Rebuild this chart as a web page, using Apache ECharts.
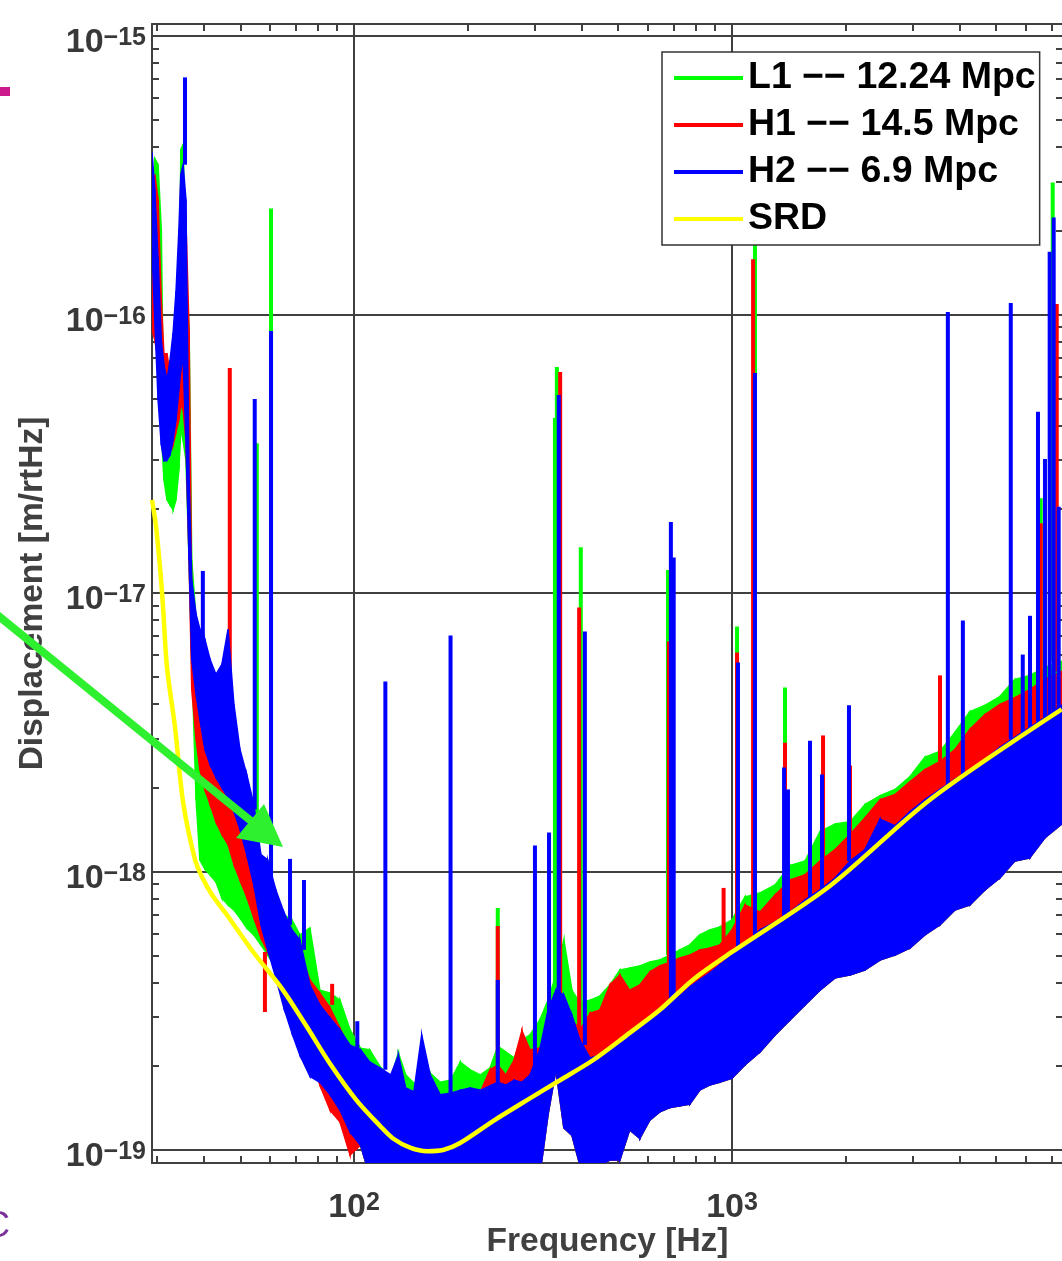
<!DOCTYPE html>
<html><head><meta charset="utf-8">
<script src="https://cdn.jsdelivr.net/npm/echarts@6/dist/echarts.min.js"></script>
<style>html,body{margin:0;padding:0;background:#fff}#c{width:1062px;height:1261px}</style>
</head><body><div id="c"></div><script>
// ---------------- DATA ----------------
// shared frequency grid for the noise bands [Hz]
const freq = [29.2,29.7,30.3,30.9,31.4,32.0,32.6,33.2,33.8,34.4,34.8,35.3,35.9,36.6,37.2,38.2,39.1,40.3,41.6,43.1,44.7,46.4,48.1,49.9,52.0,54.3,56.7,59.1,62.1,65.2,68.5,71.9,76.4,81.2,86.4,91.8,97.6,
104,110,117,125,131,137,144,151,159,169,180,191,203,216,229,240,252,265,278,292,310,326,342,359,377,396,421,447,475,505,536,570,606,644,685,727,773,821,873,928,1000,
1082,1186,1300,1424,1560,1709,1874,2053,2249,2464,2700,2956,3238,3548,3888,4259,4668,5112,5600,6135,6721,7451];

// L1 band: upper / lower edge [m/rtHz]
const l1Hi = [1.71e-16,3.63e-16,3.45e-16,2.02e-16,3.45e-17,3.26e-17,3.40e-17,3.45e-17,4.18e-17,5.82e-17,3.91e-16,4.08e-16,1.34e-16,8.94e-17,1.31e-17,8.03e-18,6.27e-18,4.89e-18,3.98e-18,3.10e-18,2.42e-18,2.05e-18,1.81e-18,1.60e-18,1.36e-18,1.12e-18,9.72e-19,8.94e-19,7.90e-19,6.98e-19,6.70e-19,5.92e-19,6.27e-19,3.75e-19,3.66e-19,3.45e-19,2.70e-19,
2.32e-19,2.29e-19,2.00e-19,1.81e-19,2.23e-19,1.86e-19,1.74e-19,1.70e-19,1.89e-19,1.75e-19,1.78e-19,2.07e-19,1.94e-19,1.86e-19,1.97e-19,2.36e-19,2.25e-19,2.14e-19,2.48e-19,2.59e-19,2.93e-19,3.45e-19,4.25e-19,5.68e-19,3.75e-19,3.37e-19,3.45e-19,3.57e-19,3.91e-19,4.43e-19,4.50e-19,4.58e-19,4.73e-19,4.81e-19,5.01e-19,5.23e-19,5.45e-19,5.92e-19,6.17e-19,6.32e-19,6.70e-19,
8.10e-19,8.37e-19,8.94e-19,1.05e-18,1.09e-18,1.39e-18,1.48e-18,1.51e-18,1.74e-18,1.87e-18,1.97e-18,2.19e-18,2.57e-18,2.70e-18,3.16e-18,3.75e-18,3.95e-18,4.25e-18,4.89e-18,5.06e-18,5.40e-18,5.68e-18];
const l1Lo = [9.56e-17,1.04e-16,8.10e-17,3.85e-17,2.55e-17,2.16e-17,2.07e-17,1.99e-17,2.16e-17,2.77e-17,3.85e-17,3.54e-17,3.00e-17,1.31e-17,5.77e-18,1.81e-18,1.10e-18,1.02e-18,9.72e-19,9.17e-19,8.03e-19,7.58e-19,7.27e-19,6.81e-19,6.27e-19,5.92e-19,5.45e-19,5.01e-19,4.50e-19,3.75e-19,3.24e-19,2.81e-19,2.38e-19,2.14e-19,1.86e-19,1.64e-19,1.39e-19,
1.04e-19,8.1e-20,8.1e-20,8.1e-20,8.1e-20,8.1e-20,8.1e-20,8.1e-20,8.1e-20,8.1e-20,8.1e-20,8.1e-20,8.1e-20,8.1e-20,8.1e-20,8.1e-20,8.1e-20,8.1e-20,8.1e-20,8.1e-20,8.1e-20,1.34e-19,1.94e-19,1.20e-19,1.13e-19,8.8e-20,8.8e-20,8.8e-20,9.2e-20,9.2e-20,1.18e-19,1.10e-19,1.28e-19,1.37e-19,1.42e-19,1.44e-19,1.46e-19,1.64e-19,1.71e-19,1.75e-19,1.81e-19,
2.02e-19,2.25e-19,2.59e-19,2.93e-19,3.32e-19,3.75e-19,4.15e-19,4.25e-19,4.43e-19,4.81e-19,5.01e-19,5.31e-19,5.92e-19,6.43e-19,7.27e-19,7.58e-19,8.58e-19,9.48e-19,1.09e-18,1.12e-18,1.32e-18,1.48e-18];

// H1 band
const h1Hi = [2.02e-16,3.18e-16,2.59e-16,1.13e-16,7.22e-17,7.22e-17,6.06e-17,6.59e-17,8.44e-17,1.13e-16,3.05e-16,3.18e-16,2.19e-16,8.80e-17,9.48e-18,7.40e-18,6.11e-18,4.50e-18,3.37e-18,2.63e-18,2.32e-18,1.97e-18,1.74e-18,1.54e-18,1.32e-18,1.09e-18,9.32e-19,8.51e-19,7.77e-19,6.98e-19,6.01e-19,5.14e-19,4.08e-19,3.66e-19,3.24e-19,2.74e-19,2.29e-19,
2.02e-19,1.94e-19,1.86e-19,1.78e-19,1.94e-19,1.64e-19,1.59e-19,1.64e-19,1.64e-19,1.54e-19,1.56e-19,1.60e-19,1.64e-19,1.62e-19,1.94e-19,2.02e-19,1.86e-19,2.10e-19,2.68e-19,2.29e-19,2.32e-19,2.70e-19,3.45e-19,3.32e-19,2.93e-19,2.70e-19,3.10e-19,3.18e-19,3.91e-19,4.25e-19,3.75e-19,3.91e-19,4.36e-19,4.58e-19,4.73e-19,4.89e-19,5.01e-19,5.23e-19,5.31e-19,5.45e-19,6.17e-19,
7.58e-19,7.15e-19,8.23e-19,9.32e-19,9.72e-19,1.09e-18,1.20e-18,1.36e-18,1.56e-18,1.81e-18,1.89e-18,2.10e-18,2.32e-18,2.48e-18,2.74e-18,3.24e-18,3.66e-18,3.98e-18,4.21e-18,4.50e-18,4.89e-18,5.23e-18];
const h1Lo = [8.80e-17,8.10e-17,6.87e-17,4.93e-17,3.54e-17,3.85e-17,3.26e-17,3.40e-17,3.79e-17,4.18e-17,4.73e-17,4.54e-17,3.54e-17,1.31e-17,4.50e-18,2.98e-18,2.32e-18,1.97e-18,1.74e-18,1.51e-18,1.36e-18,1.25e-18,1.06e-18,9.32e-19,8.10e-19,6.81e-19,5.77e-19,5.14e-19,4.50e-19,3.75e-19,3.18e-19,2.70e-19,2.19e-19,1.71e-19,1.39e-19,1.26e-19,9.6e-20,
1.04e-19,8.1e-20,8.1e-20,8.1e-20,8.1e-20,8.1e-20,8.1e-20,8.1e-20,8.1e-20,8.1e-20,8.1e-20,8.1e-20,8.1e-20,8.1e-20,8.1e-20,8.1e-20,8.1e-20,8.1e-20,8.1e-20,8.1e-20,8.1e-20,1.34e-19,1.94e-19,1.20e-19,1.13e-19,8.8e-20,8.8e-20,8.8e-20,9.2e-20,9.2e-20,1.18e-19,1.10e-19,1.28e-19,1.37e-19,1.42e-19,1.44e-19,1.46e-19,1.64e-19,1.71e-19,1.75e-19,1.81e-19,
2.02e-19,2.25e-19,2.59e-19,2.93e-19,3.32e-19,3.75e-19,4.15e-19,4.25e-19,4.43e-19,4.81e-19,5.01e-19,5.31e-19,5.92e-19,6.43e-19,7.27e-19,7.58e-19,8.58e-19,9.48e-19,1.09e-18,1.12e-18,1.32e-18,1.48e-18];

// H2 band
const h2Hi = [3.82e-16,2.81e-16,1.58e-16,8.10e-17,6.59e-17,5.82e-17,6.87e-17,8.58e-17,1.21e-16,2.02e-16,3.18e-16,3.45e-16,2.59e-16,2.55e-17,1.11e-17,8.37e-18,7.40e-18,6.81e-18,5.77e-18,5.10e-18,5.54e-18,7.40e-18,3.98e-18,2.74e-18,2.23e-18,1.74e-18,1.15e-18,1.10e-18,8.58e-19,7.15e-19,6.17e-19,5.68e-19,3.91e-19,3.32e-19,2.98e-19,2.70e-19,2.38e-19,
2.29e-19,2.07e-19,1.97e-19,1.86e-19,2.19e-19,1.67e-19,1.62e-19,2.59e-19,1.86e-19,1.58e-19,1.60e-19,1.64e-19,1.67e-19,1.64e-19,1.70e-19,1.75e-19,1.71e-19,1.78e-19,1.75e-19,1.86e-19,2.29e-19,3.18e-19,3.75e-19,3.60e-19,3.05e-19,2.48e-19,2.14e-19,2.19e-19,2.29e-19,2.48e-19,2.59e-19,2.79e-19,2.98e-19,3.18e-19,3.37e-19,3.57e-19,3.85e-19,4.08e-19,4.32e-19,4.62e-19,5.01e-19,
5.45e-19,6.17e-19,6.59e-19,7.15e-19,7.90e-19,8.58e-19,9.48e-19,1.09e-18,1.20e-18,1.54e-18,1.46e-18,1.64e-18,1.81e-18,1.97e-18,2.14e-18,2.32e-18,2.52e-18,2.79e-18,3.03e-18,3.29e-18,3.57e-18,3.95e-18];
const h2Lo = [1.71e-16,9.56e-17,4.93e-17,3.40e-17,2.98e-17,3.00e-17,3.13e-17,3.54e-17,4.18e-17,5.36e-17,6.32e-17,6.87e-17,3.54e-17,1.31e-17,5.77e-18,4.32e-18,3.51e-18,2.74e-18,2.42e-18,2.18e-18,2.00e-18,1.84e-18,1.64e-18,1.42e-18,1.15e-18,8.94e-19,6.43e-19,5.23e-19,4.15e-19,3.24e-19,2.63e-19,2.19e-19,1.84e-19,1.75e-19,1.58e-19,1.39e-19,1.16e-19,
1.04e-19,8.1e-20,8.1e-20,8.1e-20,8.1e-20,8.1e-20,8.1e-20,8.1e-20,8.1e-20,8.1e-20,8.1e-20,8.1e-20,8.1e-20,8.1e-20,8.1e-20,8.1e-20,8.1e-20,8.1e-20,8.1e-20,8.1e-20,8.1e-20,1.34e-19,1.94e-19,1.20e-19,1.13e-19,8.8e-20,8.8e-20,8.8e-20,9.2e-20,9.2e-20,1.18e-19,1.10e-19,1.28e-19,1.37e-19,1.42e-19,1.44e-19,1.46e-19,1.64e-19,1.71e-19,1.75e-19,1.81e-19,
2.02e-19,2.25e-19,2.59e-19,2.93e-19,3.32e-19,3.75e-19,4.15e-19,4.25e-19,4.43e-19,4.81e-19,5.01e-19,5.31e-19,5.92e-19,6.43e-19,7.27e-19,7.58e-19,8.58e-19,9.48e-19,1.09e-18,1.12e-18,1.32e-18,1.48e-18];

// narrow spectral lines: [frequency, foot value, tip value] (tip below foot = downward line)
const l1Lines = [[55.3,1.10e-18,3.45e-17],[60.3,8.94e-19,2.40e-16],[240,2.36e-19,7.40e-19],[328,3.18e-19,1.36e-18],
  [340,3.91e-19,4.25e-17],[344,3.91e-19,6.48e-17],[398,3.37e-19,1.46e-17],[677,5.01e-19,1.21e-17],[1031,6.70e-19,7.58e-18],
  [1150,8.37e-19,2.6e-16],[1381,9.32e-19,4.58e-18],[6558,5.40e-18,2.19e-17],[7054,5.68e-18,2.98e-16]];
const h1Lines = [[46.9,1.89e-18,6.43e-17],[58.1,5.14e-19,3.13e-19],[87.5,3.32e-19,3.95e-19],[240,2.02e-19,6.37e-19],[351,3.45e-19,6.22e-17],
  [394,2.70e-19,8.87e-18],[681,4.73e-19,6.70e-18],[950,5.40e-19,8.73e-19],[1031,6.17e-19,6.11e-18],[1137,7.15e-19,1.58e-16],
  [1381,8.23e-19,2.90e-18],[1741,1.10e-18,3.08e-18],[2052,1.36e-18,2.40e-18],[3550,2.48e-18,5.06e-18],[6558,4.81e-18,1.78e-17],
  [7229,5.23e-18,1.09e-16]];
const h2Lines = [[35.7,3.45e-16,7.10e-16],[39.8,6.81e-18,1.20e-17],[54.6,1.67e-18,4.97e-17],[60.3,9.32e-19,8.73e-17],
  [67.7,6.43e-19,1.11e-18],[73.7,5.23e-19,9.32e-19],[102,2.29e-19,2.90e-19],[121,1.94e-19,4.81e-18],[180,1.60e-19,7.04e-18],
  [240,1.75e-19,4.08e-19],[301,1.81e-19,1.24e-18],[328,3.18e-19,1.38e-18],[348,3.60e-19,5.14e-17],[408,2.38e-19,7.27e-18],
  [689,3.37e-19,1.80e-17],[701,3.45e-19,1.34e-17],[1037,5.23e-19,5.63e-18],[1150,5.92e-19,6.17e-17],[1373,6.81e-19,2.36e-18],
  [1406,6.98e-19,1.97e-18],[1608,8.10e-19,2.95e-18],[1730,8.58e-19,2.23e-18],[2039,1.09e-18,3.95e-18],[3724,2.05e-18,1.02e-16],
  [4081,2.23e-18,7.97e-18],[5464,2.98e-18,1.10e-16],[5878,3.10e-18,6.01e-18],[6143,3.29e-18,8.28e-18],[6449,3.43e-18,4.47e-17],
  [6730,3.57e-18,3.03e-17],[6925,3.63e-18,1.68e-16],[7097,3.73e-18,2.23e-16],[7316,3.82e-18,2.04e-17]];

// SRD design curve
const srdFreq = [29.2,29.9,30.7,31.2,32.0,33.6,35.3,37.9,39.6,42.3,46.1,54.1,64.5,75.0,86.4,101.8,117.2,126.8,140.7,156,172,190.8,233.2,286.8,350.5,428.4,527.6,643.6,787.1,1000,1815,3340,7451];
const srdVal  = [2.16e-17,1.75e-17,1.21e-17,9.09e-18,5.40e-18,3.29e-18,1.77e-18,1.11e-18,9.56e-19,8.16e-19,6.98e-19,5.14e-19,3.79e-19,2.77e-19,2.04e-19,1.50e-19,1.22e-19,1.10e-19,1.02e-19,9.9e-20,1.00e-19,1.06e-19,1.27e-19,1.51e-19,1.78e-19,2.10e-19,2.59e-19,3.18e-19,4.08e-19,5.14e-19,8.87e-19,1.81e-18,3.82e-18];

// axes
const xRange = [29.2, 7511];
const yRange = [8.98e-20, 1.104e-15];
const xTickLabels = [100, 1000];
const yTickLabels = [1e-19, 1e-18, 1e-17, 1e-16, 1e-15];
const xMinorTicks = [30,40,50,60,70,80,90,200,300,400,500,600,700,800,900,2000,3000,4000,5000,6000,7000];
const yMinorTicks = [2e-19,3e-19,4e-19,5e-19,6e-19,7e-19,8e-19,9e-19,2e-18,3e-18,4e-18,5e-18,6e-18,7e-18,8e-18,9e-18,
  2e-17,3e-17,4e-17,5e-17,6e-17,7e-17,8e-17,9e-17,2e-16,3e-16,4e-16,5e-16,6e-16,7e-16,8e-16,9e-16];
const names = ['L1 \u2212\u2212 12.24 Mpc', 'H1 \u2212\u2212 14.5 Mpc', 'H2 \u2212\u2212 6.9 Mpc', 'SRD'];

// ---------------- CHART ----------------
const FONT = '"Liberation Sans", Arial, Helvetica, sans-serif';
const AX = '#404040';
const GREEN = '#00ff00', RED = '#ff0000', BLUE = '#0000ff', YELLOW = '#ffff00';

function bandRows(lo, hi) { return freq.map(function (f, i) { return [f, lo[i], hi[i]]; }); }
function bandRenderer(color) {
  return function (params, api) {
    const i = params.dataIndexInside;
    if (i >= params.dataInsideLength - 1) return null;
    const a = api.coord([api.value(0, i), api.value(2, i)]);
    const b = api.coord([api.value(0, i + 1), api.value(2, i + 1)]);
    const c = api.coord([api.value(0, i + 1), api.value(1, i + 1)]);
    const d = api.coord([api.value(0, i), api.value(1, i)]);
    return { type: 'polygon', shape: { points: [a, b, c, d] }, style: { fill: color, stroke: color, lineWidth: 1.5 } };
  };
}
function spikeRenderer(color, w) {
  return function (params, api) {
    const foot = api.coord([api.value(0), api.value(1)]);
    const tip = api.coord([api.value(0), api.value(2)]);
    const y0 = Math.min(foot[1], tip[1]), y1 = Math.max(foot[1], tip[1]);
    return { type: 'rect', shape: { x: foot[0] - w / 2, y: y0, width: w, height: y1 - y0 }, style: { fill: color } };
  };
}
function supLabel(v) {
  const n = Math.round(Math.log10(v));
  return '{b|10}{s|' + (n < 0 ? '\u2212' + (-n) : n) + '}';
}
const labelRich = {
  b: { fontSize: 34, lineHeight: 34, padding: [12, 0, 0, 0], verticalAlign: 'bottom', color: '#383838', fontWeight: 'bold', fontFamily: FONT },
  s: { fontSize: 25, lineHeight: 25, verticalAlign: 'top', color: '#383838', fontWeight: 'bold', fontFamily: FONT }
};
const lineStyle = { color: AX, width: 2 };
function logAxis(extra) {
  return Object.assign({ type: 'log', logBase: 10, axisLabel: { show: false }, splitLine: { show: false },
    axisLine: { show: false }, axisTick: { show: false }, minorTick: { show: false }, minorSplitLine: { show: false } }, extra);
}
function custom(name, color, render, data) {
  return { type: 'custom', name: name, renderItem: render, data: data, encode: { x: 0, y: [1, 2] },
    itemStyle: { color: color }, clip: true, silent: true };
}

const chart = echarts.init(document.getElementById('c'), null, { renderer: 'canvas' });
chart.setOption({
  animation: false,
  backgroundColor: '#ffffff',
  grid: { left: 152, top: 24, width: 911, height: 1139, containLabel: false, outerBoundsMode: 'none' },
  xAxis: [
    logAxis({ min: xRange[0], max: xRange[1], position: 'bottom',
      axisLine: { show: true, onZero: false, lineStyle: lineStyle },
      axisTick: { show: false, customValues: xTickLabels },
      axisLabel: { show: true, customValues: xTickLabels, formatter: supLabel, rich: labelRich, margin: 28 },
      splitLine: { show: true, lineStyle: { color: AX, width: 2 } },
      name: 'Frequency [Hz]', nameLocation: 'middle', nameGap: 62, nameMoveOverlap: false,
      nameTextStyle: { fontSize: 33.5, fontWeight: 'bold', color: '#404040', fontFamily: FONT } }),
    logAxis({ min: xRange[0], max: xRange[1], position: 'bottom',
      axisTick: { show: true, inside: true, length: 7, customValues: xMinorTicks, lineStyle: lineStyle } }),
    logAxis({ min: xRange[0], max: xRange[1], position: 'top',
      axisLine: { show: true, onZero: false, lineStyle: lineStyle },
      axisTick: { show: true, inside: true, length: 7, customValues: xMinorTicks, lineStyle: lineStyle } })
  ],
  yAxis: [
    logAxis({ min: yRange[0], max: yRange[1], position: 'left',
      axisLine: { show: true, onZero: false, lineStyle: lineStyle },
      axisTick: { show: false, customValues: yTickLabels },
      axisLabel: { show: true, customValues: yTickLabels, formatter: supLabel, rich: labelRich, margin: 6, padding: [14, 0, 0, 0] },
      splitLine: { show: true, lineStyle: { color: AX, width: 2 } },
      name: 'Displacement [m/rtHz]', nameLocation: 'middle', nameGap: 102, nameMoveOverlap: false,
      nameTextStyle: { fontSize: 33.5, fontWeight: 'bold', color: '#404040', fontFamily: FONT } }),
    logAxis({ min: yRange[0], max: yRange[1], position: 'left',
      axisTick: { show: true, inside: true, length: 7, customValues: yMinorTicks, lineStyle: lineStyle } }),
    logAxis({ min: yRange[0], max: yRange[1], position: 'right',
      axisLine: { show: true, onZero: false, lineStyle: lineStyle },
      axisTick: { show: true, inside: true, length: 7, customValues: yMinorTicks, lineStyle: lineStyle } })
  ],
  legend: {
    left: 662, top: 52, orient: 'vertical', itemWidth: 69, itemHeight: 4, itemGap: 7,
    padding: [6, 4, 6, 12], backgroundColor: '#ffffff', borderColor: '#333', borderWidth: 1.5, borderRadius: 0,
    selectedMode: false,
    textStyle: { fontSize: 37.5, fontWeight: 'bold', color: '#000', lineHeight: 40, fontFamily: FONT },
    data: names.map(function (n) { return { name: n, icon: 'rect' }; })
  },
  series: [
    custom(names[0], GREEN, bandRenderer(GREEN), bandRows(l1Lo, l1Hi)),
    custom(names[0], GREEN, spikeRenderer(GREEN, 4), l1Lines),
    custom(names[1], RED, bandRenderer(RED), bandRows(h1Lo, h1Hi)),
    custom(names[1], RED, spikeRenderer(RED, 4), h1Lines),
    custom(names[2], BLUE, bandRenderer(BLUE), bandRows(h2Lo, h2Hi)),
    custom(names[2], BLUE, spikeRenderer(BLUE, 4), h2Lines),
    { type: 'line', name: names[3], data: srdFreq.map(function (f, i) { return [f, srdVal[i]]; }),
      showSymbol: false, symbol: 'none', smooth: 0.3, clip: true, silent: true,
      lineStyle: { color: YELLOW, width: 4.5 }, itemStyle: { color: YELLOW } }
  ],
  graphic: [
    { type: 'rect', z: 100, shape: { x: 0, y: 87, width: 10, height: 9 }, style: { fill: '#cc1a8c' } },
    { type: 'line', z: 100, shape: { x1: -5, y1: 613, x2: 256, y2: 825 }, style: { stroke: '#2ef02e', lineWidth: 8 } },
    { type: 'polygon', z: 100, shape: { points: [[283, 847], [236, 838], [264, 804]] }, style: { fill: '#2ef02e' } },
    { type: 'text', z: 100, style: { text: 'C', x: -16, y: 1245, textVerticalAlign: 'bottom', font: '36px "Liberation Sans", Arial, sans-serif', fill: '#7b2f9b' } }
  ]
});
</script></body></html>
